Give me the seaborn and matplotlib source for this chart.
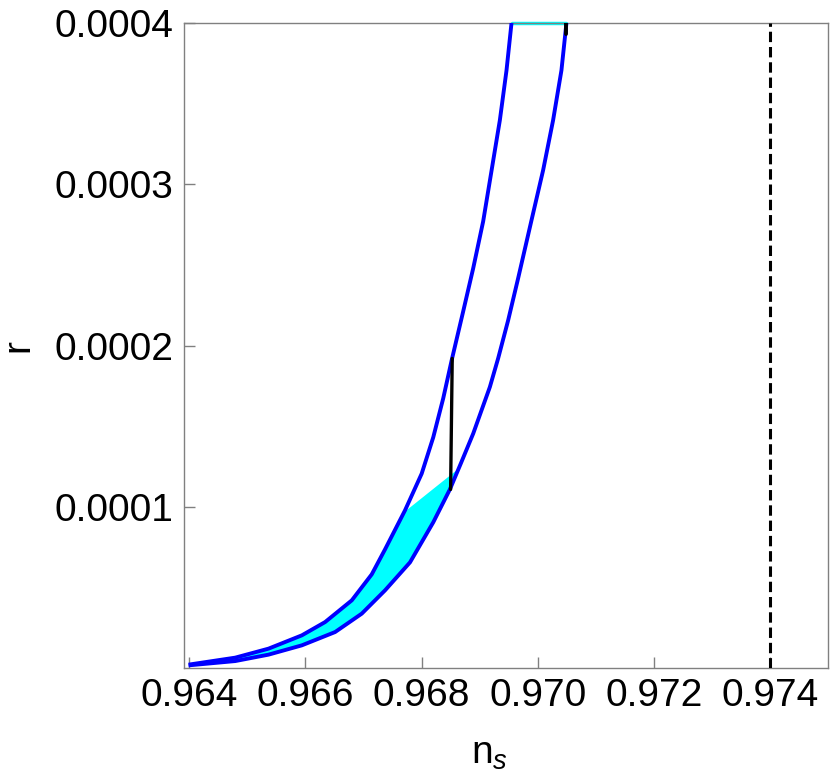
import matplotlib
matplotlib.use("Agg")
import matplotlib.pyplot as plt
import seaborn as sns
import numpy as np
import pandas as pd

# upper (left) blue curve
ns_upper = [0.963988, 0.964791, 0.965364, 0.965938, 0.966339, 0.966798, 0.967142,
            0.967371, 0.967715, 0.968002, 0.968201, 0.968373, 0.968518, 0.968717,
            0.968889, 0.969061, 0.969206, 0.969348, 0.969463, 0.969549]
r_upper = [2.11e-6, 6.45e-6, 1.203e-5, 2.028e-5, 2.853e-5, 4.198e-5, 5.811e-5,
           7.361e-5, 9.780e-5, 1.2056e-4, 1.4307e-4, 1.6726e-4, 1.9082e-4, 2.2121e-4,
           2.4788e-4, 2.7702e-4, 3.0865e-4, 3.3966e-4, 3.7067e-4, 4.0e-4]

# lower (right) blue curve
ns_lower = [0.963988, 0.964791, 0.965364, 0.965938, 0.966511, 0.966970, 0.967371,
            0.967801, 0.968201, 0.968488, 0.968677, 0.968889, 0.969176, 0.969319,
            0.969491, 0.969663, 0.969893, 0.970093, 0.970265, 0.970409, 0.970495]
r_lower = [1.67e-6, 4.34e-6, 8.31e-6, 1.408e-5, 2.233e-5, 3.374e-5, 4.819e-5,
           6.555e-5, 9.036e-5, 1.1082e-4, 1.2695e-4, 1.4537e-4, 1.7426e-4, 1.9206e-4,
           2.1563e-4, 2.4168e-4, 2.7764e-4, 3.0865e-4, 3.3966e-4, 3.7067e-4, 4.0e-4]

# cyan region: between the curves, cut by a chord
chord_ns = [0.967686, 0.968631]
chord_r = [9.68e-5, 1.24e-4]

# black segments
black_ns = [0.968528, 0.968500]
black_r = [1.92e-4, 1.108e-4]
black_top_ns = [0.97049, 0.97049]
black_top_r = [4.0e-4, 3.93e-4]

# cyan line on the top edge
top_ns = [0.969549, 0.970495]
top_r = [4.0e-4, 4.0e-4]

ns_planck = 0.974

xticks = [0.964, 0.966, 0.968, 0.970, 0.972, 0.974]
yticks = [0.0001, 0.0002, 0.0003, 0.0004]

df_up = pd.DataFrame({"ns": ns_upper, "r": r_upper})
df_lo = pd.DataFrame({"ns": ns_lower, "r": r_lower})

sns.set_style("white")
plt.rcParams["font.family"] = ["Liberation Sans", "DejaVu Sans"]
plt.rcParams["mathtext.fontset"] = "custom"
plt.rcParams["mathtext.rm"] = "Liberation Sans"
plt.rcParams["mathtext.it"] = "Liberation Sans:italic"

fig = plt.figure(figsize=(8.3, 7.75), dpi=100)
ax = fig.add_axes([0.2211, 0.138, 0.7765, 0.8323])

# cyan fill
xs = np.linspace(ns_upper[0], chord_ns[1], 400)
low = np.interp(xs, ns_lower, r_lower)
up = np.interp(xs, ns_upper, r_upper)
chord = np.interp(xs, chord_ns, chord_r)
top = np.where(xs < chord_ns[0], up, chord)
top = np.maximum(top, low)
ax.fill_between(xs, low, top, color="#00ffff", linewidth=0, zorder=1)

sns.lineplot(data=df_up, x="ns", y="r", color="#0000ff", linewidth=2.8, sort=False,
             ax=ax, zorder=3)
sns.lineplot(data=df_lo, x="ns", y="r", color="#0000ff", linewidth=2.8, sort=False,
             ax=ax, zorder=3)
for ln in ax.lines:
    ln.set_solid_joinstyle("round")
    ln.set_solid_capstyle("butt")

ax.plot(top_ns, top_r, color="#00ffff", linewidth=2.5, clip_on=False, zorder=2)
ax.plot(black_ns, black_r, color="black", linewidth=2.4, zorder=4)
ax.plot(black_top_ns, black_top_r, color="black", linewidth=2.8, zorder=4)
ax.axvline(ns_planck, color="black", linestyle=(0, (3.4, 1.6)), linewidth=2.2, zorder=4)

ax.set_xlim(0.9639, 0.975)
ax.set_ylim(0, 0.0004)
ax.set_xticks(xticks)
ax.set_xticklabels([f"{t:.3f}" for t in xticks])
ax.set_yticks(yticks)
ax.set_yticklabels([f"{t:.4f}" for t in yticks])

for s in ax.spines.values():
    s.set_color("#808080")
    s.set_linewidth(1)
ax.tick_params(direction="in", length=8, width=1, color="#808080", labelcolor="black",
               labelsize=28, pad=7, bottom=True, left=True, top=False, right=False)

ax.set_xlabel(r"n$_{s}$", fontsize=28, color="black")
ax.set_ylabel("r", fontsize=28, color="black")
ax.xaxis.set_label_coords(0.475, -0.105)
ax.yaxis.set_label_coords(-0.228, 0.5)

fig.savefig("out.png", dpi=100)
